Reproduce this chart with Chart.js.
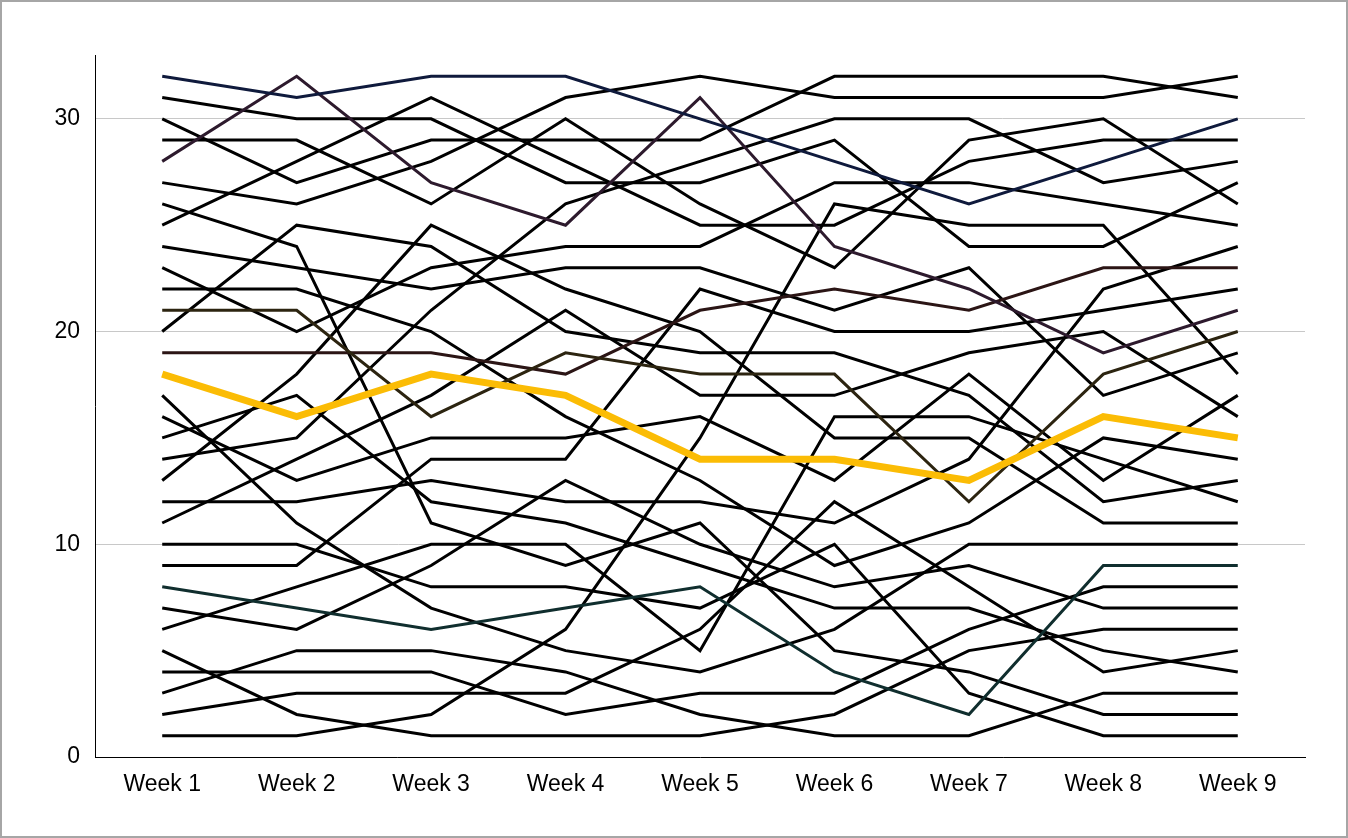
<!DOCTYPE html>
<html>
<head>
<meta charset="utf-8">
<script src="https://cdn.jsdelivr.net/npm/chart.js@4.4.1/dist/chart.umd.min.js"></script>
<style>
  body { margin: 0; background: #fff; }
  canvas { display: block; }
</style>
</head>
<body>
<canvas id="bump" width="1348" height="838"></canvas>
<script>
/*------ data: rank of every team per week ------*/
const weeks = ['Week 1', 'Week 2', 'Week 3', 'Week 4', 'Week 5', 'Week 6', 'Week 7', 'Week 8', 'Week 9'];
const yTicks = [0, 10, 20, 30];

// highlighted lines
const goldLine   = [18, 16, 18, 17, 14, 14, 13, 16, 15];
const navyLine   = [32, 31, 32, 32, 30, 28, 26, 28, 30];
const plumLine   = [28, 32, 27, 25, 31, 24, 22, 19, 21];
const oliveLine  = [21, 21, 16, 19, 18, 18, 12, 18, 20];
const maroonLine = [19, 19, 19, 18, 21, 22, 21, 23, 23];
const tealLine   = [8, 7, 6, 7, 8, 4, 2, 9, 9];

// the black ones
const line31 = [31, 30, 30, 27, 27, 29, 24, 24, 27];
const line30 = [30, 27, 29, 29, 29, 32, 32, 32, 31];
const line29 = [29, 29, 26, 30, 26, 23, 29, 30, 26];
const line27 = [27, 26, 28, 31, 32, 31, 31, 31, 32];
const line26 = [26, 24, 11, 9, 11, 5, 4, 2, 2];
const line25 = [25, 28, 31, 28, 25, 25, 28, 29, 29];
const line24 = [24, 23, 22, 23, 23, 21, 23, 17, 19];
const line23 = [23, 20, 23, 24, 24, 27, 27, 26, 25];
const line22 = [22, 22, 20, 16, 13, 9, 11, 15, 14];
const line20 = [20, 25, 24, 20, 19, 19, 17, 12, 13];
const line17 = [17, 11, 7, 5, 4, 6, 10, 10, 10];
const line16 = [16, 13, 15, 15, 16, 13, 18, 13, 17];
const line15 = [15, 17, 12, 11, 9, 7, 7, 5, 4];
const line14 = [14, 15, 21, 26, 28, 30, 30, 27, 28];
const line13 = [13, 18, 25, 22, 20, 15, 15, 11, 11];
const line12 = [12, 12, 13, 12, 12, 11, 14, 22, 24];
const line11 = [11, 14, 17, 21, 17, 17, 19, 20, 16];
const line10 = [10, 10, 8, 8, 7, 10, 3, 1, 1];
const line09 = [9, 9, 14, 14, 22, 20, 20, 21, 22];
const line07 = [7, 6, 9, 13, 10, 8, 9, 7, 7];
const line06 = [6, 8, 10, 10, 5, 16, 16, 14, 12];
const line05 = [5, 2, 1, 1, 1, 2, 5, 6, 6];
const line04 = [4, 4, 4, 2, 3, 3, 6, 8, 8];
const line03 = [3, 5, 5, 4, 2, 1, 1, 3, 3];
const line02 = [2, 3, 3, 3, 6, 12, 8, 4, 5];
const line01 = [1, 1, 2, 6, 15, 26, 25, 25, 18];

const blackLines = [line31, line30, line29, line27, line26, line25, line24, line23, line22,
  line20, line17, line16, line15, line14, line13, line12, line11, line10, line09,
  line07, line06, line05, line04, line03, line02, line01];

function mkLine(data, color, width, order) {
    return {
        data: data,
        borderColor: color,
        borderWidth: width,
        pointRadius: 0,
        tension: 0,
        fill: false,
        order: order
    };
}

const datasets = [
    mkLine(goldLine, '#fbbc05', 7, 0),
    mkLine(navyLine, '#0f1a3c', 3, 1),
    mkLine(plumLine, '#2d1a2d', 3, 1),
    mkLine(oliveLine, '#2c2410', 3, 1),
    mkLine(maroonLine, '#2b1515', 3, 1),
    mkLine(tealLine, '#102e2e', 3, 1)
];
blackLines.forEach(function (d) {
    datasets.push(mkLine(d, '#000000', 3, 2));
});

/*------ frame round the picture ------*/
const framePlugin = {
    id: 'frame',
    afterDraw: function (chart) {
        const c = chart.ctx;
        c.save();
        c.strokeStyle = '#a6a6a6';
        c.lineWidth = 2;
        c.strokeRect(1, 1, chart.width - 2, chart.height - 2);
        c.restore();
    }
};

const ctx = document.getElementById('bump').getContext('2d');
const bumpChart = new Chart(ctx, {
    type: 'line',
    data: {
        labels: weeks,
        datasets: datasets
    },
    options: {
        responsive: false,
        animation: false,
        devicePixelRatio: 1,
        layout: { padding: { top: 55, right: 43, left: 0, bottom: 0 } },
        plugins: {
            legend: { display: false },
            tooltip: { enabled: false }
        },
        scales: {
            x: {
                offset: true,
                grid: { display: false },
                border: { color: '#000', width: 1 },
                ticks: { color: '#000', font: { family: 'Liberation Sans, Arial', size: 23 }, padding: 6 },
                afterFit: function (s) { s.height = 81; }
            },
            y: {
                min: 0,
                max: 33,
                grid: { color: '#c8c8c8', lineWidth: 1, drawTicks: false },
                border: { color: '#000', width: 1 },
                ticks: { color: '#000', font: { family: 'Liberation Sans, Arial', size: 23 }, padding: 15 },
                afterBuildTicks: function (s) {
                    s.ticks = yTicks.map(function (v) { return { value: v }; });
                },
                afterFit: function (s) { s.width = 95; }
            }
        }
    },
    plugins: [framePlugin]
});
</script>
</body>
</html>
